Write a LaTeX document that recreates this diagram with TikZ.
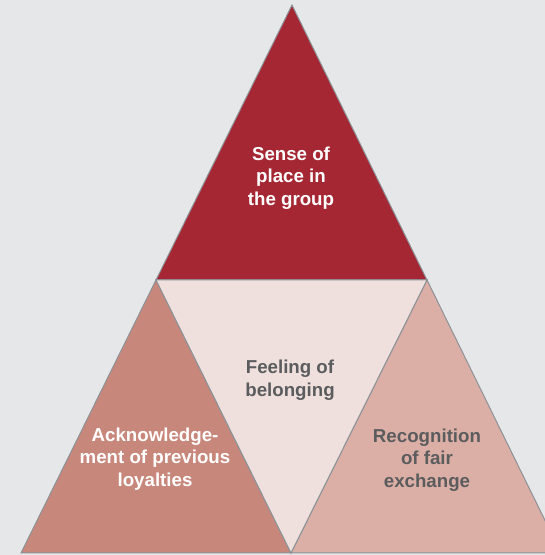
\documentclass[tikz,border=0pt]{standalone}
\usepackage{fontspec}
\setmainfont{Liberation Sans}
\usetikzlibrary{positioning}

\definecolor{bggray}{HTML}{E6E7E8}
\definecolor{edgegray}{HTML}{8C9297}
\definecolor{topred}{HTML}{A52733}
\definecolor{midpink}{HTML}{EFE0DD}
\definecolor{leftrose}{HTML}{C8877B}
\definecolor{rightrose}{HTML}{DCAFA6}
\definecolor{textgray}{HTML}{5B5C5E}

\tikzset{
  tri/.style={draw=edgegray, line width=1pt, line join=miter},
  lbl/.style={align=center, font=\fontsize{18.7}{22.7}\selectfont\bfseries}
}

\begin{document}
\begin{tikzpicture}[x=1pt,y=1pt]
        \fill[bggray] (0,0) rectangle (545,555);
        \useasboundingbox (0,0) rectangle (545,555);
        \clip (0,0) rectangle (545,555);

        \coordinate (apex) at (292,550);
        \coordinate (lmid) at (156,275);
        \coordinate (rmid) at (427,275);
        \coordinate (bl) at (21,2);
        \coordinate (bm) at (291,2);
        \coordinate (br) at (561,2);

        % the four parts of the triangle
        \filldraw[tri, fill=topred] (apex) -- (lmid) -- (rmid) -- cycle;
        \filldraw[tri, fill=leftrose] (lmid) -- (bl) -- (bm) -- cycle;
        \filldraw[tri, fill=rightrose] (rmid) -- (bm) -- (br) -- cycle;
        \filldraw[tri, fill=midpink] (lmid) -- (rmid) -- (bm) -- cycle;

        \node[lbl, text=white] (place) at (291,377) {Sense of\\place in\\the group};
        \node[lbl, text=textgray] (belong) at (290,175) {Feeling of\\belonging};
        \node[lbl, text=white] (loyal) at (155,96) {Acknowledge-\\ment of previous\\loyalties};
        \node[lbl, text=textgray] (fair) at (427,95) {Recognition\\of fair\\exchange};
\end{tikzpicture}
\end{document}
